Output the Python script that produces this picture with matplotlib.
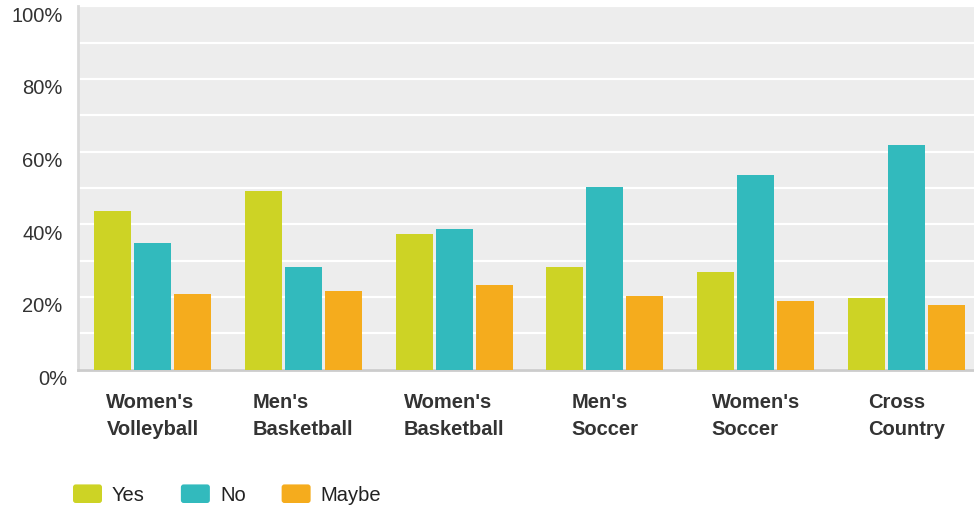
import numpy as np
import matplotlib
matplotlib.use("Agg")
import matplotlib.pyplot as plt
from matplotlib.transforms import ScaledTranslation
from matplotlib.patches import Patch, FancyBboxPatch
from matplotlib.legend_handler import HandlerPatch

plt.rcParams['font.family'] = ['Liberation Sans', 'DejaVu Sans']

categories = ["Women's\nVolleyball", "Men's\nBasketball", "Women's\nBasketball",
              "Men's\nSoccer", "Women's\nSoccer", "Cross\nCountry"]
yes = [43.6, 49.1, 37.3, 28.2, 26.8, 19.6]
no = [34.8, 28.2, 38.7, 50.2, 53.5, 61.8]
maybe = [20.7, 21.6, 23.2, 20.2, 18.8, 17.7]
series_names = ["Yes", "No", "Maybe"]
colors = ["#CDD325", "#32BABD", "#F5AC1D"]
yticks = [0, 20, 40, 60, 80, 100]
ytick_labels = ["0%", "20%", "40%", "60%", "80%", "100%"]

W, H = 974, 508
FS = 14.5
fig = plt.figure(figsize=(W / 100, H / 100), dpi=100)
ax = fig.add_axes([78 / W, (H - 369.5) / H, (W - 78) / W, 363.2 / H])
ax.set_facecolor("#EDEDED")

x = np.arange(len(categories))
step = 0.265
bw = 0.245
for i, (vals, c) in enumerate(zip([yes, no, maybe], colors)):
    ax.bar(x + (i - 1) * step, vals, width=bw, color=c, zorder=3, linewidth=0)

ax.set_xlim(-0.494, 5.448)
ax.set_ylim(0, 100)
ax.set_axisbelow(True)
ax.set_yticks(yticks)
ax.set_yticks(np.arange(10, 100, 20), minor=True)
ax.yaxis.grid(True, which="both", color="white", linewidth=1.6)
ax.set_yticklabels(ytick_labels, fontsize=FS, color="#333333")
ax.tick_params(axis="y", which="both", length=0, pad=11)
for lab in ax.get_yticklabels():
    dx = 4.5 / 100 if lab.get_text() == "0%" else 0
    lab.set_transform(lab.get_transform() + ScaledTranslation(dx, -8 / 100, fig.dpi_scale_trans))

ax.set_xticks(x)
ax.set_xticklabels(categories, fontsize=FS, fontweight="bold", color="#333333",
                   multialignment="left", linespacing=1.55)
ax.tick_params(axis="x", length=0, pad=17)

for s in ["top", "right"]:
    ax.spines[s].set_visible(False)
ax.spines["left"].set_color("#DADADA")
ax.spines["left"].set_linewidth(2)
ax.spines["bottom"].set_color("#CCCCCC")
ax.spines["bottom"].set_linewidth(2)


def rounded(legend, orig_handle, xdescent, ydescent, width, height, fontsize):
    return FancyBboxPatch((-xdescent, -ydescent), width, height,
                          boxstyle="round,pad=0,rounding_size=2")


fpx = FS * 100 / 72
handles = [Patch(facecolor=c, edgecolor="none", label=n) for n, c in zip(series_names, colors)]
fig.legend(handles=handles, loc="center left", bbox_to_anchor=(73 / W, 1 - 494.5 / H),
           ncol=3, frameon=False, fontsize=FS, handlelength=29 / fpx, handleheight=21 / fpx,
           handletextpad=10 / fpx, columnspacing=36 / fpx, borderpad=0, borderaxespad=0,
           labelcolor="#222222",
           handler_map={Patch: HandlerPatch(patch_func=rounded)})

fig.savefig("out.png", dpi=100)
